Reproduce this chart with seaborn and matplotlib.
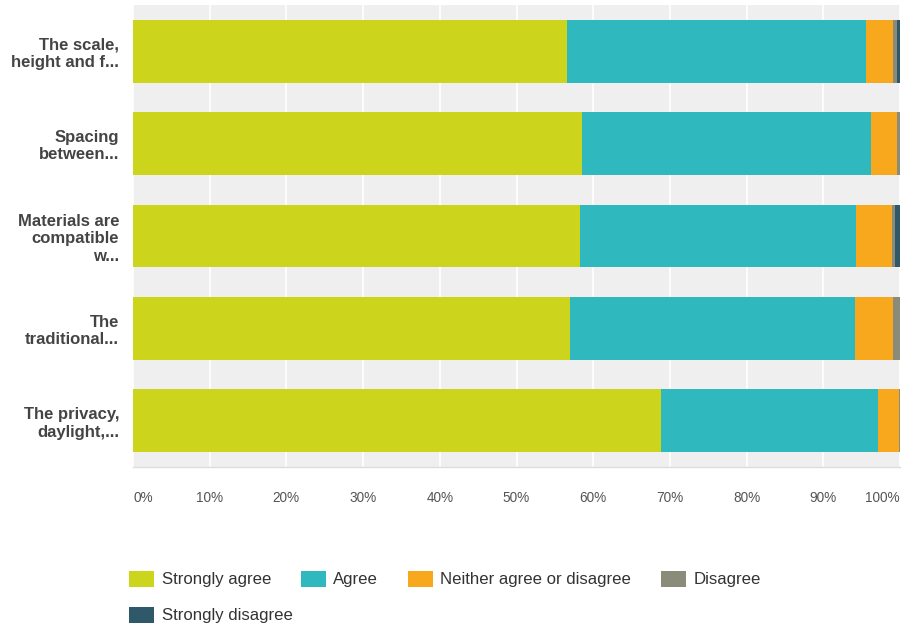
import matplotlib
matplotlib.use("Agg")
import matplotlib.pyplot as plt
import seaborn as sns
import pandas as pd
import numpy as np
from matplotlib.patches import Patch

# Survey statements (truncated as shown on the axis)
statements = [
    "The scale,\nheight and f...",
    "Spacing\nbetween...",
    "Materials are\ncompatible\nw...",
    "The\ntraditional...",
    "The privacy,\ndaylight,...",
]

# Response shares in percent for each statement
strongly_agree = [56.6, 58.5, 58.3, 57.0, 68.8]
agree = [39.0, 37.7, 35.9, 37.1, 28.3]
neither = [3.5, 3.4, 4.8, 5.0, 2.8]
disagree = [0.5, 0.4, 0.4, 0.9, 0.1]
strongly_disagree = [0.4, 0.0, 0.6, 0.0, 0.0]

responses = ["Strongly agree", "Agree", "Neither agree or disagree",
             "Disagree", "Strongly disagree"]
series = [strongly_agree, agree, neither, disagree, strongly_disagree]
colors = ["#cdd41c", "#2fb8be", "#f8a81c", "#8b8b7a", "#2f5868"]

x_ticks = [0, 10, 20, 30, 40, 50, 60, 70, 80, 90, 100]
x_tick_labels = [f"{t}%" for t in x_ticks]

sns.set_theme(style="white")
plt.rcParams["font.family"] = ["Liberation Sans", "DejaVu Sans"]

fig = plt.figure(figsize=(9.03, 6.25), dpi=100)
ax = fig.add_axes([0.1473, 0.2528, 0.8494, 0.7392])
ax.set_facecolor("#efefef")

# Stacked bars: draw cumulative totals from the outermost segment inward
values = np.array(series)
cum = np.cumsum(values, axis=0)
for i in range(len(responses) - 1, -1, -1):
    df = pd.DataFrame({"statement": statements, "value": cum[i]})
    sns.barplot(data=df, x="value", y="statement", orient="h",
                color=colors[i], width=0.68, saturation=1,
                linewidth=0, ax=ax, zorder=2)

ax.set_xlim(0, 100)
ax.set_ylim(4.5, -0.5)
ax.set_xticks(x_ticks)
ax.set_xticklabels(x_tick_labels)
ax.grid(axis="x", color="white", linewidth=1.2, zorder=0)
ax.grid(axis="y", visible=False)
ax.set_axisbelow(True)
ax.set_xlabel("")
ax.set_ylabel("")
for side in ["top", "right", "left"]:
    ax.spines[side].set_visible(False)
ax.spines["bottom"].set_color("#dddddd")
ax.spines["bottom"].set_linewidth(1.0)

ax.tick_params(axis="x", length=0, pad=17, labelsize=9.8, labelcolor="#555555")
ax.tick_params(axis="y", length=0, pad=10, labelsize=12, labelcolor="#444444")
for lbl in ax.get_yticklabels():
    lbl.set_fontweight("bold")
    lbl.set_linespacing(1.2)
    lbl.set_horizontalalignment("right")

xt = ax.get_xticklabels()
xt[0].set_horizontalalignment("left")
xt[-1].set_horizontalalignment("right")

# Legend: first row with four entries, second row with the last one
handles = [Patch(facecolor=c, edgecolor="none") for c in colors]
leg_kw = dict(frameon=False, fontsize=12.1, handlelength=1.5, handleheight=1.1,
              handletextpad=0.45, columnspacing=1.75, labelcolor="#333333",
              borderaxespad=0, borderpad=0)
leg1 = fig.legend(handles[:4], responses[:4], ncol=4, loc="center left",
                  bbox_to_anchor=(129 / 903, 1 - 579 / 625), **leg_kw)
leg2 = fig.legend(handles[4:], responses[4:], ncol=1, loc="center left",
                  bbox_to_anchor=(129 / 903, 1 - 615 / 625), **leg_kw)

fig.savefig("out.png", dpi=100, facecolor="white")
